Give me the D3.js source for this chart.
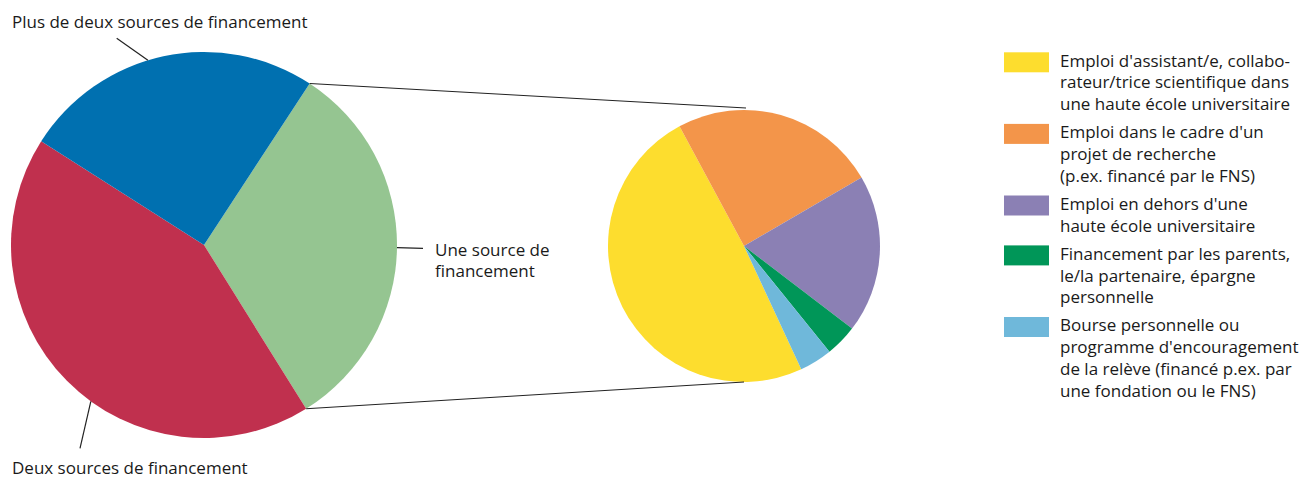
<!DOCTYPE html>
<html>
<head>
<meta charset="utf-8">
<script src="https://cdn.jsdelivr.net/npm/d3@7"></script>
<style>
  html, body { margin: 0; padding: 0; background: #fff; }
  svg text { font-family: "Open Sans", sans-serif; fill: #1a1a1a; }
</style>
</head>
<body>
<svg id="chart" width="1301" height="478"></svg>
<script>
// ---- data ----
const bigCategories = ["Une source de financement", "Deux sources de financement", "Plus de deux sources de financement"];
const bigValues = [31.9, 42.9, 25.2];
const bigColors = ["#95c591", "#c0304e", "#0070b0"];

const smallCategories = [
  "Emploi d'assistant/e, collaborateur/trice scientifique dans une haute école universitaire",
  "Emploi dans le cadre d'un projet de recherche (p.ex. financé par le FNS)",
  "Emploi en dehors d'une haute école universitaire",
  "Financement par les parents, le/la partenaire, épargne personnelle",
  "Bourse personnelle ou programme d'encouragement de la relève (financé p.ex. par une fondation ou le FNS)"
];
const smallValues = [49.1, 24.5, 18.8, 3.8, 3.9];
const smallColors = ["#fddd2e", "#f3954a", "#8b80b4", "#009658", "#6fb8da"];
const legendLines = [
  ["Emploi d'assistant/e, collabo-", "rateur/trice scientifique dans", "une haute école universitaire"],
  ["Emploi dans le cadre d'un", "projet de recherche", "(p.ex. financé par le FNS)"],
  ["Emploi en dehors d'une", "haute école universitaire"],
  ["Financement par les parents,", "le/la partenaire, épargne", "personnelle"],
  ["Bourse personnelle ou", "programme d'encouragement", "de la relève (financé p.ex. par", "une fondation ou le FNS)"]
];

// ---- layout ----
const deg = Math.PI / 180;
const big = { cx: 204, cy: 245, r: 193, start: 33.2 * deg };
const small = { cx: 744, cy: 246, r: 136, start: 155.1 * deg };
const fontSize = 17;

const svg = d3.select("#chart");

function pt(c, a, r) { return [c.cx + r * Math.sin(a), c.cy - r * Math.cos(a)]; }

// big pie
const bigPie = d3.pie().sort(null).startAngle(big.start).endAngle(big.start + 2 * Math.PI)(bigValues);
const bigArc = d3.arc().innerRadius(0).outerRadius(big.r);
svg.append("g").attr("transform", `translate(${big.cx},${big.cy})`)
  .selectAll("path").data(bigPie).join("path")
  .attr("d", bigArc).attr("fill", (d, i) => bigColors[i]);

// small pie
const smallPie = d3.pie().sort(null).startAngle(small.start).endAngle(small.start + 2 * Math.PI)(smallValues);
const smallArc = d3.arc().innerRadius(0).outerRadius(small.r);
svg.append("g").attr("transform", `translate(${small.cx},${small.cy})`)
  .selectAll("path").data(smallPie).join("path")
  .attr("d", smallArc).attr("fill", (d, i) => smallColors[i]);

// connector lines from the "Une source" slice to the small pie
const g0 = bigPie[0];
const p1 = pt(big, g0.startAngle, big.r), p2 = pt(big, g0.endAngle, big.r);
const q1 = pt(small, 0, small.r), q2 = pt(small, Math.PI, small.r);
svg.append("line").attr("x1", p1[0]).attr("y1", p1[1]).attr("x2", q1[0] + 2).attr("y2", q1[1] - 2)
  .attr("stroke", "#222").attr("stroke-width", 1);
svg.append("line").attr("x1", p2[0]).attr("y1", p2[1]).attr("x2", q2[0]).attr("y2", q2[1])
  .attr("stroke", "#222").attr("stroke-width", 1);

// labels for the big pie
const labels = [
  { i: 2, edgeAngle: 343.1, outer: [116.7, 38.3], text: [bigCategories[2]], tx: 12, ty: 28, anchor: "start" },
  { i: 1, edgeAngle: 215.9, outer: [80, 448.3], text: [bigCategories[1]], tx: 12, ty: 474, anchor: "start" },
  { i: 0, edgeAngle: 90.8, outer: [423, 248.3], text: ["Une source de", "financement"], tx: 435, ty: 255.5, anchor: "start" }
];
labels.forEach(l => {
  const e = pt(big, l.edgeAngle * deg, big.r);
  svg.append("line").attr("x1", e[0]).attr("y1", e[1]).attr("x2", l.outer[0]).attr("y2", l.outer[1])
    .attr("stroke", "#222").attr("stroke-width", 1.2);
  const t = svg.append("text").attr("x", l.tx).attr("y", l.ty).attr("font-size", fontSize).attr("text-anchor", l.anchor);
  l.text.forEach((s, k) => t.append("tspan").attr("x", l.tx).attr("dy", k === 0 ? 0 : 21).text(s));
});

// legend
const lg = { x: 1004, textX: 1060, y0: 66.7, lh: 21.7, gap: 6.5, sw: 45, sh: 20 };
let y = lg.y0;
legendLines.forEach((lines, i) => {
  svg.append("rect").attr("x", lg.x).attr("y", y - 14.4).attr("width", lg.sw).attr("height", lg.sh)
    .attr("fill", smallColors[i]);
  const t = svg.append("text").attr("x", lg.textX).attr("y", y).attr("font-size", fontSize);
  lines.forEach((s, k) => t.append("tspan").attr("x", lg.textX).attr("dy", k === 0 ? 0 : lg.lh).text(s));
  y += lines.length * lg.lh + lg.gap;
});
</script>
</body>
</html>
